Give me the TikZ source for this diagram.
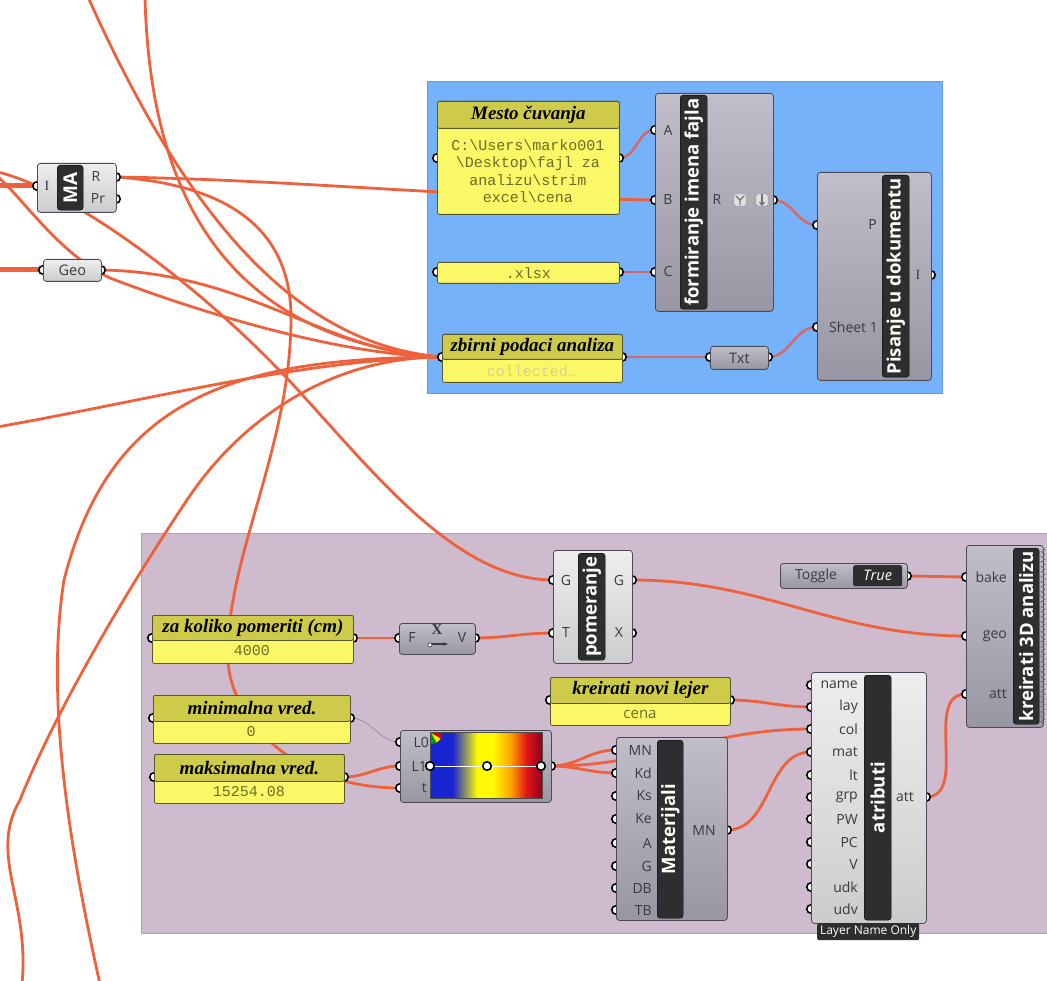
\documentclass[tikz,border=0pt]{standalone}
\usepackage{fontspec}
\setmainfont{Liberation Serif}
\setsansfont{Open Sans}
\setmonofont{Liberation Mono}
\usetikzlibrary{arrows.meta,positioning,decorations.pathmorphing}

\definecolor{wireorange}{RGB}{237,98,60}
\definecolor{wirepink}{RGB}{214,104,100}
\definecolor{wiregray}{RGB}{150,150,150}
\definecolor{grpblue}{RGB}{118,178,250}
\definecolor{grpblueline}{RGB}{96,154,228}
\definecolor{grppurple}{RGB}{206,187,205}
\definecolor{grppurpleline}{RGB}{178,160,178}
\definecolor{panelhead}{RGB}{206,202,74}
\definecolor{panelbody}{RGB}{250,248,102}
\definecolor{panelline}{RGB}{88,88,48}
\definecolor{paneltext}{RGB}{108,108,40}
\definecolor{panelfaint}{RGB}{214,212,140}
\definecolor{compline}{RGB}{74,74,84}
\definecolor{compLtop}{RGB}{238,238,238}
\definecolor{compLbot}{RGB}{204,204,206}
\definecolor{compDtop}{RGB}{192,190,200}
\definecolor{compDbot}{RGB}{152,150,162}
\definecolor{lblfill}{RGB}{46,46,48}
\definecolor{textgray}{RGB}{58,58,62}
\definecolor{gblue}{RGB}{24,36,210}
\definecolor{gyellow}{RGB}{255,250,0}
\definecolor{gorange}{RGB}{255,160,0}
\definecolor{gred}{RGB}{226,20,24}
\definecolor{gdark}{RGB}{140,0,30}
\pgfdeclarehorizontalshading{byr}{100bp}{color(0bp)=(gblue); color(35bp)=(gblue); color(46bp)=(gyellow); color(53bp)=(gyellow); color(61bp)=(gorange); color(68bp)=(gred); color(75bp)=(gdark); color(100bp)=(gdark)}

\begin{document}
\begin{tikzpicture}[x=1pt,y=-1pt]
        \tikzset{
            wire/.style={draw=wireorange, line width=2.8pt},
            wireb/.style={draw=wirepink, line width=2.5pt},
            wirethin/.style={draw=wiregray, line width=0.8pt},
            wirethick/.style={draw=wireorange, line width=5pt},
            grp/.style={anchor=north west, inner sep=0pt, line width=1pt},
            compL/.style={anchor=north west, inner sep=0pt, draw=compline, line width=0.8pt, rounded corners=3pt, top color=compLtop, bottom color=compLbot, text=textgray, font=\sffamily\fontsize{14.5}{16}\selectfont},
            compD/.style={compL, top color=compDtop, bottom color=compDbot},
            lbl/.style={anchor=north west, inner sep=0pt, fill=lblfill, draw=black, line width=0.4pt, rounded corners=3pt},
            lbltxt/.style={inner sep=0pt, rotate=90, text=white, font=\sffamily\bfseries\fontsize{18.5}{20}\selectfont},
            port/.style={circle, draw=black, fill=white, line width=1.6pt, minimum size=8.5pt, inner sep=0pt},
            plbl/.style={inner sep=0pt, text=textgray, font=\sffamily\fontsize{14}{16}\selectfont},
            pbody/.style={anchor=north west, inner sep=0pt, fill=panelbody, draw=panelline, line width=0.8pt, rounded corners=2pt},
            phead/.style={anchor=north west, inner sep=0pt, fill=panelhead, draw=panelline, line width=0.8pt, rounded corners=2pt, font=\rmfamily\bfseries\itshape\fontsize{19}{21}\selectfont},
            pval/.style={inner sep=0pt, text=paneltext, align=center, font=\ttfamily\fontsize{15}{17.3}\selectfont},
            icon/.style={draw=black!45, fill=black!12, rounded corners=1.5pt, minimum size=12pt, inner sep=0pt},
        }
        \useasboundingbox (0,0) rectangle (1047,981);
        \clip (0,0) rectangle (1047,981);

        \node[grp, fill=grpblue, draw=grpblueline, minimum width=515pt, minimum height=312pt] (grpFile) at (427,81) {};
        \node[grp, fill=grppurple, draw=grppurpleline, minimum width=912pt, minimum height=400pt] (grpBake) at (141,533) {};

        \coordinate (maI) at (37,186);
        \coordinate (maR) at (116,177);
        \coordinate (maPr) at (116,199);
        \coordinate (geoIn) at (43,270);
        \coordinate (geoOut) at (101,270);
        \coordinate (mestoIn) at (437,158);
        \coordinate (mestoOut) at (619,158);
        \coordinate (xlsxIn) at (437,272);
        \coordinate (xlsxOut) at (619,272);
        \coordinate (formA) at (655,130);
        \coordinate (formB) at (655,200);
        \coordinate (formC) at (655,272);
        \coordinate (formR) at (773,200);
        \coordinate (pisP) at (817,225);
        \coordinate (pisS) at (817,327);
        \coordinate (pisI) at (931,275);
        \coordinate (zbirIn) at (442,357);
        \coordinate (zbirOut) at (622,357);
        \coordinate (txtIn) at (710,357);
        \coordinate (txtOut) at (768,357);
        \coordinate (zaIn) at (152,638);
        \coordinate (zaOut) at (353,638);
        \coordinate (exF) at (399,638);
        \coordinate (exV) at (475,638);
        \coordinate (minIn) at (153,718);
        \coordinate (minOut) at (350,718);
        \coordinate (maksIn) at (154,777);
        \coordinate (maksOut) at (344,777);
        \coordinate (grL0) at (400,742);
        \coordinate (grL1) at (400,766);
        \coordinate (grT) at (400,788);
        \coordinate (grOut) at (551,766);
        \coordinate (pomGi) at (553,580);
        \coordinate (pomT) at (553,633);
        \coordinate (pomGo) at (632,580);
        \coordinate (pomX) at (632,633);
        \coordinate (lejIn) at (550,700);
        \coordinate (lejOut) at (730,700);
        \coordinate (togOut) at (907,576);
        \coordinate (kreBake) at (966,577);
        \coordinate (kreGeo) at (966,636);
        \coordinate (kreAtt) at (966,694);
        \coordinate (matOut) at (727,830);
        \coordinate (atrOut) at (926,797);
        \foreach \n/\y in {MN/750,Kd/773,Ks/796,Ke/819,A/843,G/866,DB/888,TB/910}
            \coordinate (mat\n) at (616,\y);
        \foreach \n/\y in {name/685,lay/707,col/729,mat/752,lt/775,grp/797,PW/819,PC/842,V/864,udk/887,udv/909}
            \coordinate (atr\n) at (811,\y);

        \coordinate (edgeTopA) at (88,-3);
        \coordinate (edgeTopB) at (145,-3);
        \coordinate (edgeLeftA) at (-3,172);
        \coordinate (edgeLeftB) at (-3,176);
        \coordinate (edgeMa) at (-3,186);
        \coordinate (edgeGeo) at (-3,270);
        \coordinate (edgeLeftC) at (-3,427);
        \coordinate (edgeBotA) at (100,984);
        \coordinate (edgeBotB) at (22,984);

        \draw[wire] (edgeTopA) .. controls (190,225) and (300,345) .. (zbirIn);
        \draw[wire] (edgeTopB) .. controls (150,200) and (230,340) .. (zbirIn);
        \draw[wire] (edgeLeftB) .. controls (20,195) and (60,255) .. (110,278) .. controls (180,305) and (330,355) .. (zbirIn);
        \draw[wire] (geoOut) .. controls (250,272) and (330,355) .. (zbirIn);
        \draw[wire] (edgeLeftC) .. controls (150,400) and (300,360) .. (zbirIn);
        \draw[wire] (zbirIn) .. controls (230,358) and (110,400) .. (64,580) .. controls (45,700) and (70,850) .. (edgeBotA);
        \draw[wire] (zbirIn) .. controls (330,357) and (240,420) .. (187,500) .. controls (140,570) and (60,700) .. (20,800) .. controls (-12,855) and (30,900) .. (edgeBotB);
        \draw[wire] (edgeLeftA) .. controls (60,185) and (200,280) .. (307,400) .. controls (380,480) and (460,580) .. (pomGi);
        \draw[wire] (maR) .. controls (300,180) and (450,197) .. (formB);
        \draw[wire] (maR) .. controls (230,185) and (292,230) .. (291,320) .. controls (290,450) and (225,560) .. (228,660) .. controls (230,715) and (290,788) .. (grT);
        \path (edgeMa) edge[wirethick] (maI);
        \path (edgeGeo) edge[wirethick] (geoIn);

        \path (mestoOut) edge[wireb, out=0, in=180] (formA);
        \path (xlsxOut) edge[wireb] (formC);
        \path (formR) edge[wireb, out=0, in=180] (pisP);
        \path (zbirOut) edge[wireb] (txtIn);
        \path (txtOut) edge[wireb, out=0, in=180] (pisS);

        \path (zaOut) edge[wire] (exF);
        \path (exV) edge[wire, out=0, in=180] (pomT);
        \path (pomGo) edge[wire, out=0, in=180] (kreGeo);
        \path (togOut) edge[wire] (kreBake);
        \path (atrOut) edge[wire, out=0, in=180] (kreAtt);
        \path (lejOut) edge[wire, out=0, in=180] (atrlay);
        \path (grOut) edge[wire, out=0, in=180] (matMN);
        \path (grOut) edge[wire, out=0, in=180] (matKd);
        \path (grOut) edge[wire, out=0, in=180] (atrcol);
        \path (matOut) edge[wire, out=0, in=180] (atrmat);
        \path (minOut) edge[wirethin, out=0, in=180] (grL0);
        \path (maksOut) edge[wire, out=0, in=180] (grL1);

        \foreach \p in {maI,maR,maPr,geoIn,geoOut,mestoIn,mestoOut,xlsxIn,xlsxOut,formA,formB,formC,formR,pisP,pisS,pisI,zbirIn,zbirOut,txtIn,txtOut,zaIn,zaOut,exF,exV,minIn,minOut,maksIn,maksOut,grL0,grL1,grT,grOut,pomGi,pomT,pomGo,pomX,lejIn,lejOut,togOut,kreBake,kreGeo,kreAtt,matOut,atrOut}
            \node[port] (\p-o) at (\p) {};
        \foreach \n in {MN,Kd,Ks,Ke,A,G,DB,TB}
            \node[port] (mat\n-o) at (mat\n) {};
        \foreach \n in {name,lay,col,mat,lt,grp,PW,PC,V,udk,udv}
            \node[port] (atr\n-o) at (atr\n) {};

        \node[compL, minimum width=79pt, minimum height=49pt] (ma) at (37,163) {};
        \node[lbl, minimum width=26pt, minimum height=45pt] (maLbl) at (57,165) {};
        \node[lbltxt, font=\sffamily\bfseries\fontsize{19}{20}\selectfont] (maLblT) at (maLbl.center) {MA};
        \node[plbl, font=\rmfamily\fontsize{14}{16}\selectfont] (maIL) at (47,186) {I};
        \node[plbl] (maRL) at (96,177) {R};
        \node[plbl] (maPrL) at (98,199) {Pr};

        \node[compL, minimum width=58pt, minimum height=22pt] (geo) at (43,259) {Geo};

        \node[pbody, minimum width=182pt, minimum height=113pt] (mesto) at (437,101) {};
        \node[phead, minimum width=182pt, minimum height=27pt] (mestoHd) at (437,101) {Mesto čuvanja};
        \node[pval] (mestoV) at (528,171) {C:\textbackslash Users\textbackslash marko001\\\textbackslash Desktop\textbackslash fajl za\\analizu\textbackslash strim\\excel\textbackslash cena};

        \node[pbody, minimum width=182pt, minimum height=21pt] (xlsx) at (437,262) {};
        \node[pval] (xlsxV) at (xlsx.center) {.xlsx};

        \node[compD, minimum width=118pt, minimum height=218pt] (form) at (655,93) {};
        \node[lbl, minimum width=27pt, minimum height=214pt] (formLbl) at (680,95) {};
        \node[lbltxt] (formLblT) at (formLbl.center) {formiranje imena fajla};
        \node[plbl] (formAL) at (668,130) {A};
        \node[plbl] (formBL) at (668,200) {B};
        \node[plbl] (formCL) at (668,272) {C};
        \node[plbl] (formRL) at (717,200) {R};
        \node[icon] (icGraft) at (740,200) {};
        \node[icon] (icFlat) at (762,200) {};
        \draw[black!55, line width=1.3pt] (icGraft.center) ++(-4,-4) -- (icGraft.center) -- ++(4,-4) (icGraft.center) -- ++(0,5);
        \draw[black!55, line width=1.8pt, -{Triangle[length=3.5pt, width=6pt]}] (762,194) -- (762,206);

        \node[compD, minimum width=114pt, minimum height=208pt] (pis) at (817,172) {};
        \node[lbl, minimum width=27pt, minimum height=202pt] (pisLbl) at (882,175) {};
        \node[lbltxt] (pisLblT) at (pisLbl.center) {Pisanje u dokumentu};
        \node[plbl, anchor=east] (pisPL) at (877,225) {P};
        \node[plbl, anchor=east] (pisSL) at (878,327) {Sheet 1};
        \node[plbl, font=\rmfamily\fontsize{14}{16}\selectfont] (pisIL) at (918,275) {I};

        \node[pbody, minimum width=180pt, minimum height=48pt] (zbir) at (442,334) {};
        \node[phead, minimum width=180pt, minimum height=25pt] (zbirHd) at (442,334) {zbirni podaci analiza};
        \node[pval, text=panelfaint] (zbirV) at (532,371) {collected…};

        \node[compD, minimum width=58pt, minimum height=23pt] (txt) at (710,346) {Txt};

        \node[pbody, minimum width=201pt, minimum height=48pt] (za) at (152,615) {};
        \node[phead, minimum width=201pt, minimum height=25pt] (zaHd) at (152,615) {za koliko pomeriti (cm)};
        \node[pval] (zaV) at (252,651) {4000};

        \node[compD, minimum width=76pt, minimum height=31pt] (expr) at (399,623) {};
        \node[plbl] (exFL) at (412,638) {F};
        \node[plbl] (exVL) at (462,638) {V};
        \node[inner sep=0pt, text=textgray, font=\rmfamily\bfseries\fontsize{15}{15}\selectfont] (exX) at (437,630) {X};
        \draw[textgray, line width=1.3pt, -{Stealth[length=5pt]}] (431,644) -- (448,644);
        \node[circle, draw=textgray, fill=white, line width=0.6pt, minimum size=4pt, inner sep=0pt] (exDot) at (430,645) {};

        \node[pbody, minimum width=197pt, minimum height=48pt] (min) at (153,695) {};
        \node[phead, minimum width=197pt, minimum height=26pt] (minHd) at (153,695) {minimalna vred.};
        \node[pval] (minV) at (251,732) {0};

        \node[pbody, minimum width=190pt, minimum height=49pt] (maks) at (154,754) {};
        \node[phead, minimum width=190pt, minimum height=27pt] (maksHd) at (154,754) {maksimalna vred.};
        \node[pval] (maksV) at (249,792) {15254.08};

        \node[compD, minimum width=151pt, minimum height=72pt] (grad) at (400,730) {};
        \node[anchor=north west, inner sep=0pt, minimum width=112pt, minimum height=66pt, shading=byr, draw=black!70, line width=0.5pt] (gradBar) at (430,732) {};
        \fill[red!85!black] (431,733) -- ++(11,0) arc[start angle=0, end angle=30, radius=11] -- cycle;
        \fill[yellow!90!orange] (431,733) -- ++(30:11) arc[start angle=30, end angle=60, radius=11] -- cycle;
        \fill[green!60!black] (431,733) -- ++(60:11) arc[start angle=60, end angle=90, radius=11] -- cycle;
        \draw[white, line width=0.8pt] (430,766) -- (541,766);
        \node[port] (gradL) at (430,766) {};
        \node[port] (gradM) at (487,766) {};
        \node[port] (gradR) at (541,766) {};
        \node[plbl, anchor=east] (grL0L) at (429,742) {L0};
        \node[plbl, anchor=east] (grL1L) at (427,766) {L1};
        \node[plbl, anchor=east] (grTL) at (427,788) {t};

        \node[compL, minimum width=79pt, minimum height=113pt] (pom) at (553,550) {};
        \node[lbl, minimum width=27pt, minimum height=107pt] (pomLbl) at (578,553) {};
        \node[lbltxt] (pomLblT) at (pomLbl.center) {pomeranje};
        \node[plbl] (pomGiL) at (566,580) {G};
        \node[plbl] (pomTL) at (566,633) {T};
        \node[plbl] (pomGoL) at (619,580) {G};
        \node[plbl] (pomXL) at (619,633) {X};

        \node[pbody, minimum width=180pt, minimum height=48pt] (lej) at (550,677) {};
        \node[phead, minimum width=180pt, minimum height=26pt] (lejHd) at (550,677) {kreirati novi lejer};
        \node[pval, font=\sffamily\fontsize{15}{17}\selectfont] (lejV) at (640,714) {cena};

        \node[compD, minimum width=111pt, minimum height=183pt] (mat) at (616,737) {};
        \node[lbl, minimum width=26pt, minimum height=178pt] (matLbl) at (657,740) {};
        \node[lbltxt] (matLblT) at (matLbl.center) {Materijali};
        \foreach \n/\y in {MN/750,Kd/773,Ks/796,Ke/819,A/843,G/866,DB/888,TB/910}
            \node[plbl, anchor=east] (matL\n) at (652,\y) {\n};
        \node[plbl] (matOutL) at (704,830) {MN};

        \node[compL, minimum width=115pt, minimum height=251pt] (atr) at (811,672) {};
        \node[lbl, minimum width=27pt, minimum height=245pt] (atrLbl) at (864,675) {};
        \node[lbltxt] (atrLblT) at (atrLbl.center) {atributi};
        \foreach \n/\y in {name/685,lay/707,col/729,mat/752,lt/775,grp/797,PW/819,PC/842,V/864,udk/887,udv/909}
            \node[plbl, anchor=east] (atrL\n) at (858,\y) {\n};
        \node[plbl] (atrOutL) at (905,797) {att};
        \node[anchor=north west, inner sep=0pt, fill=lblfill, rounded corners=2pt, minimum width=102pt, minimum height=17pt, text=white, font=\sffamily\fontsize{12}{13}\selectfont] (atrTab) at (817,923) {Layer Name Only};

        \node[compD, minimum width=127pt, minimum height=25pt] (tog) at (780,563) {};
        \node[plbl] (togL) at (816,576) {Toggle};
        \node[anchor=north west, inner sep=0pt, fill=lblfill, rounded corners=2pt, minimum width=49pt, minimum height=21pt, text=white, font=\sffamily\itshape\fontsize{14.5}{16}\selectfont] (togV) at (853,565) {True};

        \node[compD, minimum width=77pt, minimum height=182pt] (kre) at (966,545) {};
        \node[lbl, minimum width=26pt, minimum height=176pt] (kreLbl) at (1013,548) {};
        \node[lbltxt] (kreLblT) at (kreLbl.center) {kreirati 3D analizu};
        \draw[black!55, line width=0.6pt, decorate, decoration={zigzag, segment length=5pt, amplitude=2pt}] (1043,548) -- (1043,724);
        \node[plbl, anchor=east] (kreBakeL) at (1007,577) {bake};
        \node[plbl, anchor=east] (kreGeoL) at (1007,636) {geo};
        \node[plbl, anchor=east] (kreAttL) at (1007,694) {att};
\end{tikzpicture}
\end{document}
